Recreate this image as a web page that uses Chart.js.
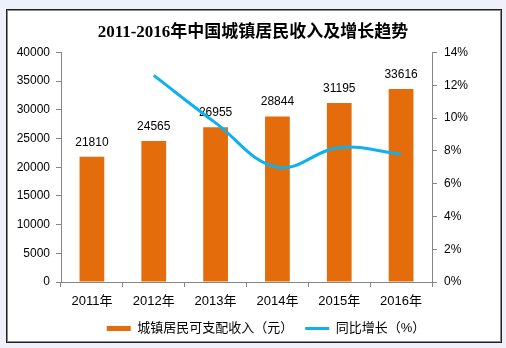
<!DOCTYPE html>
<html>
<head>
<meta charset="utf-8">
<script src="https://cdn.jsdelivr.net/npm/chart.js@4/dist/chart.umd.min.js"></script>
<style>
  html, body { margin: 0; padding: 0; background: #eef1fa; width: 506px; height: 348px; overflow: hidden; }
  #frame { position: absolute; left: 6px; top: 9px; width: 494px; height: 332px; background: #ffffff; border: 1px solid #222; box-shadow: inset 0 0 0 1px #8a8a8a; }
  #c { position: absolute; left: 0; top: 0; }
</style>
</head>
<body>
<div id="frame"></div>
<canvas id="c" width="506" height="348"></canvas>
<script>
const titleText = '2011-2016年中国城镇居民收入及增长趋势';
const categories = ['2011年', '2012年', '2013年', '2014年', '2015年', '2016年'];
const incomeLabel = '城镇居民可支配收入（元）';
const growthLabel = '同比增长（%）';
const income = [21810, 24565, 26955, 28844, 31195, 33616];
const growth = [null, 12.6, 9.7, 7.0, 8.2, 7.8];
const leftTickMax = 40000, leftTickStep = 5000;
const rightTickMax = 14, rightTickStep = 2;

const sansFamily = '"Liberation Sans", "Noto Sans CJK SC", sans-serif';
const axisGray = '#868686';

const barLabels = {
  id: 'barLabels',
  afterDatasetDraw(chart, args) {
    if (args.index !== 0) return;
    const ctx = chart.ctx;
    ctx.save();
    ctx.font = '12px ' + sansFamily;
    ctx.fillStyle = '#000';
    ctx.textAlign = 'center';
    ctx.textBaseline = 'alphabetic';
    args.meta.data.forEach((el, i) => {
      ctx.fillText(String(income[i]), el.x, el.y - 11);
    });
    ctx.restore();
  }
};

const legendShift = {
  id: 'legendShift',
  afterLayout(chart) {
    if (chart.legend) {
      chart.legend.left += 13;
      chart.legend.right += 13;
    }
  }
};

new Chart(document.getElementById('c'), {
  data: {
    labels: categories,
    datasets: [
      {
        type: 'bar',
        label: incomeLabel,
        data: income,
        backgroundColor: '#e46c0a',
        borderWidth: 0,
        categoryPercentage: 1,
        barPercentage: 0.4,
        yAxisID: 'y',
        order: 2,
        pointStyle: 'rect'
      },
      {
        type: 'line',
        label: growthLabel,
        data: growth,
        borderColor: '#0fb0ec',
        backgroundColor: '#0fb0ec',
        borderWidth: 3,
        tension: 0.4,
        pointRadius: 0,
        fill: false,
        yAxisID: 'y1',
        order: 1,
        pointStyle: 'line'
      }
    ]
  },
  options: {
    responsive: false,
    animation: false,
    devicePixelRatio: 1,
    layout: { padding: { left: 0, right: 0, top: 0, bottom: 3 } },
    plugins: {
      tooltip: { enabled: false },
      title: {
        display: true,
        text: titleText,
        color: '#000',
        font: { family: '"Liberation Serif", "Noto Sans CJK SC", serif', size: 17, weight: 'bold', lineHeight: 1.2 },
        padding: { top: 22, bottom: 10 }
      },
      legend: {
        display: true,
        position: 'bottom',
        labels: {
          color: '#000',
          font: { family: sansFamily, size: 13 },
          usePointStyle: true,
          pointStyleWidth: 24,
          boxHeight: 5,
          padding: 12,
          sort: (a, b) => a.datasetIndex - b.datasetIndex
        }
      }
    },
    scales: {
      x: {
        offset: true,
        grid: { display: true, drawOnChartArea: false, drawTicks: true, tickLength: 5, color: axisGray, offset: true },
        border: { display: true, color: axisGray },
        ticks: { color: '#000', font: { family: sansFamily, size: 13 }, padding: 7, maxRotation: 0 },
        afterFit(scale) { scale.height = 28; }
      },
      y: {
        position: 'left',
        min: 0, max: leftTickMax,
        ticks: { stepSize: leftTickStep, color: '#000', font: { family: sansFamily, size: 12 }, padding: 6, callback: v => String(v) },
        grid: { display: true, drawOnChartArea: false, drawTicks: true, tickLength: 5, color: axisGray },
        border: { display: true, color: axisGray },
        afterFit(scale) { scale.width = 61; }
      },
      y1: {
        position: 'right',
        min: 0, max: rightTickMax,
        ticks: { stepSize: rightTickStep, color: '#000', font: { family: sansFamily, size: 12 }, padding: 7, callback: v => v + '%' },
        grid: { display: true, drawOnChartArea: false, drawTicks: true, tickLength: 5, color: axisGray },
        border: { display: true, color: axisGray },
        afterFit(scale) { scale.width = 74; }
      }
    }
  },
  plugins: [barLabels, legendShift]
});
</script>
</body>
</html>
